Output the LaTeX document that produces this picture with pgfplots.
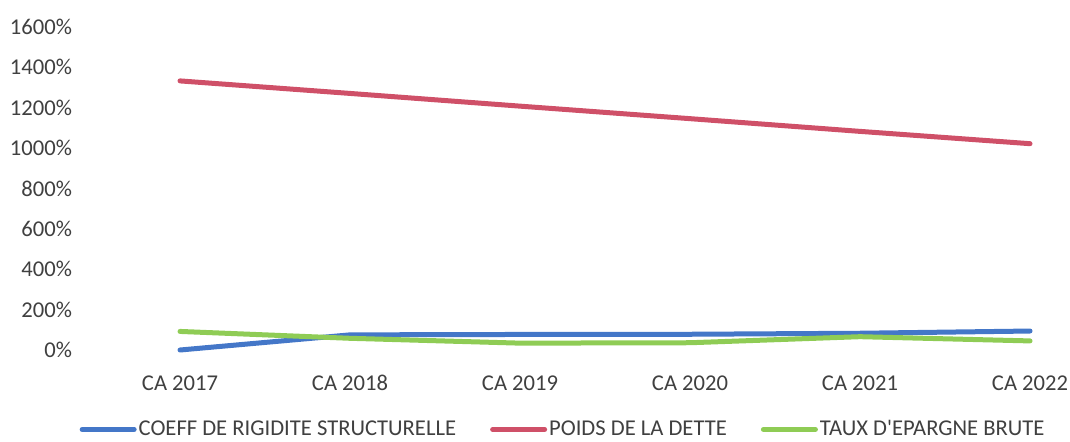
\documentclass[border=0pt]{standalone}
\usepackage{pgfplots}
\pgfplotsset{compat=1.18}
\usepackage{fontspec}
\setmainfont{Carlito}
\definecolor{txt}{HTML}{404040}
\definecolor{cblue}{HTML}{4477C8}
\definecolor{cred}{HTML}{CF5068}
\definecolor{cgreen}{HTML}{8FCC55}
\begin{document}
\begin{tikzpicture}
\useasboundingbox (-47.5pt,-45.5pt) rectangle (487.5pt,175pt);
\begin{axis}[
  at={(0,0)}, anchor=south west,
  scale only axis,
  width=488.75pt, height=161.5pt,
  xmin=-0.5, xmax=5.25,
  ymin=0, ymax=1600,
  axis line style={draw=none},
  tick style={draw=none},
  xtick={0,1,2,3,4,5},
  xticklabels={CA 2017,CA 2018,CA 2019,CA 2020,CA 2021,CA 2022},
  ytick={0,200,...,1600},
  yticklabel={\pgfmathprintnumber{\tick}\%},
  /pgf/number format/assume math mode=true,
  /pgf/number format/1000 sep={},
  ticklabel style={font=\fontsize{11.3}{13}\selectfont, text=txt},
  yticklabel style={xshift=-8pt},
  xticklabel style={anchor=base, yshift=-20pt},
  clip=false,
  legend columns=3,
  legend style={draw=none, fill=none,
    at={(0.4788,-0.246)}, anchor=center,
    font=\fontsize{11.3}{13}\selectfont, text=txt,
    /tikz/every even column/.append style={column sep=16pt},
    nodes={inner sep=1pt}},
  legend image code/.code={\draw[#1,line cap=round] (0pt,0pt) -- (26pt,0pt);},
]
\addplot[cblue, line width=2.5pt, line cap=round, line join=round] coordinates {(0,0) (1,75) (2,77) (3,78) (4,83) (5,94)};
\addlegendentry{COEFF DE RIGIDITE STRUCTURELLE}
\addplot[cred, line width=2.5pt, line cap=round, line join=round] coordinates {(0,1333) (1,1271) (2,1208) (3,1146) (4,1083) (5,1022)};
\addlegendentry{POIDS DE LA DETTE}
\addplot[cgreen, line width=2.5pt, line cap=round, line join=round] coordinates {(0,92) (1,58) (2,34) (3,36) (4,66) (5,45)};
\addlegendentry{TAUX D\textquotesingle EPARGNE BRUTE}
\end{axis}
\end{tikzpicture}
\end{document}
